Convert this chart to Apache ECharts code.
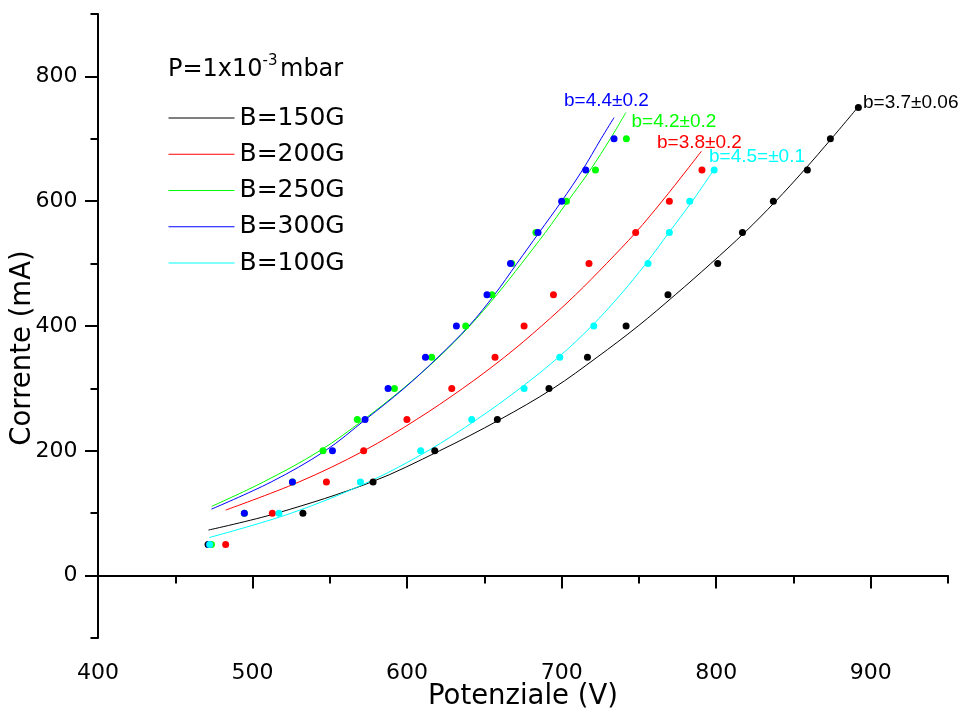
<!DOCTYPE html>
<html>
<head>
<meta charset="utf-8">
<script src="https://cdn.jsdelivr.net/npm/echarts@6/dist/echarts.min.js"></script>
<style>html,body{margin:0;padding:0;background:#fff;}#c{width:964px;height:713px;}</style>
</head>
<body>
<div id="c"></div>
<script>
// ---- tick labels ----
const xMajorTicks = [400, 500, 600, 700, 800, 900];
const xMinorTicks = [450, 550, 650, 750, 850, 950];
const yMajorTicks = [0, 200, 400, 600, 800];
const yMinorTicks = [-100, 100, 300, 500, 700, 900];

// ---- measured points: current (mA) vs voltage (V) ----
const current150 = [50, 100, 150, 200, 250, 300, 350, 400, 450, 500, 550, 600, 650, 700, 750];
const voltage150 = [471.2, 532.6, 578.0, 617.9, 658.4, 691.8, 716.7, 741.7, 768.8, 801.0, 817.0, 837.0, 859.0, 873.9, 892.0];

const current200 = [50, 100, 150, 200, 250, 300, 350, 400, 450, 500, 550, 600, 650];
const voltage200 = [482.6, 512.8, 547.8, 571.9, 599.9, 628.9, 656.9, 675.7, 694.7, 717.7, 747.9, 769.7, 790.8];

const current250 = [50, 100, 150, 200, 250, 300, 350, 400, 450, 500, 550, 600, 650, 700];
const voltage250 = [473.4, 494.7, 525.8, 545.6, 567.8, 591.8, 615.9, 637.9, 654.9, 667.7, 683.4, 703.1, 721.9, 741.9];

const current300 = [50, 100, 150, 200, 250, 300, 350, 400, 450, 500, 550, 600, 650, 700];
const voltage300 = [472.0, 494.7, 525.8, 551.7, 572.8, 587.7, 611.9, 631.9, 651.7, 666.9, 684.7, 700.0, 715.6, 733.9];

const current100 = [50, 100, 150, 200, 250, 300, 350, 400, 500, 550, 600, 650];
const voltage100 = [472.3, 517.1, 569.8, 608.8, 641.8, 675.7, 698.8, 720.8, 755.9, 769.7, 782.9, 798.7];

// ---- fitted curves ----
const fitV150 = [471.5, 515.7, 577, 621, 660, 694.5, 723, 749.5, 773.5, 796.5, 818.5, 838.5, 857, 874.5, 891.5];
const fitI150 = [73, 100, 150, 200, 250, 300, 350, 400, 450, 500, 550, 600, 650, 700, 750];
const fitV200 = [482.6, 530, 572, 606, 636, 663, 687, 709, 729, 748, 765, 781, 790.4];
const fitI200 = [105, 150, 200, 250, 300, 350, 400, 450, 500, 550, 600, 650, 680];
const fitV250 = [473.6, 507, 543.5, 572, 597.5, 620.5, 640.5, 658, 674, 689.5, 704, 718.5, 731.5, 741.5];
const fitI250 = [111, 150, 200, 250, 300, 350, 400, 450, 500, 550, 600, 650, 700, 742];
const fitV300 = [473.4, 512, 547, 573, 598, 620, 640, 656.5, 671, 685.5, 700, 713.5, 725.5, 733.9];
const fitI300 = [106.5, 150, 200, 250, 300, 350, 400, 450, 500, 550, 600, 650, 700, 734];
const fitV100 = [472, 525, 575, 613.5, 645, 673, 698, 719.5, 738, 754.5, 769.5, 784.5, 798.7];
const fitI100 = [61, 100, 150, 200, 250, 300, 350, 400, 450, 500, 550, 600, 651];

const seriesNames = ['B=150G', 'B=200G', 'B=250G', 'B=300G', 'B=100G'];
const seriesColors = ['#000000', '#ff0000', '#00ff00', '#0000ff', '#00ffff'];
const fitLabels = ['b=3.7\u00b10.06', 'b=3.8\u00b10.2', 'b=4.2\u00b10.2', 'b=4.4\u00b10.2', 'b=4.5=\u00b10.1'];

const pts = [[voltage150, current150], [voltage200, current200], [voltage250, current250], [voltage300, current300], [voltage100, current100]];
const fits = [[fitV150, fitI150], [fitV200, fitI200], [fitV250, fitI250], [fitV300, fitI300], [fitV100, fitI100]];
const zip = (a, b) => a.map((v, i) => [v, b[i]]);

const FONT = '"DejaVu Sans", sans-serif';
const AFONT = '"Liberation Sans", Arial, sans-serif';

const series = [];
fits.forEach((f, i) => {
  series.push({
    name: seriesNames[i], type: 'line', xAxisIndex: 0, yAxisIndex: 0,
    data: zip(f[0], f[1]), showSymbol: false, symbol: 'none',
    smooth: 0.35,
    lineStyle: { color: seriesColors[i], width: 1 }, itemStyle: { color: seriesColors[i] },
    z: 2
  });
});
pts.forEach((p, i) => {
  series.push({
    name: seriesNames[i] + ' dati', type: 'scatter', xAxisIndex: 0, yAxisIndex: 0,
    data: zip(p[0], p[1]), symbol: 'circle', symbolSize: 7,
    itemStyle: { color: seriesColors[i], opacity: 1 }, z: 3
  });
});

const annotations = [
  { i: 0, x: 863, y: 102.5 },
  { i: 1, x: 657, y: 143 },
  { i: 2, x: 631.5, y: 122 },
  { i: 3, x: 564, y: 100.3 },
  { i: 4, x: 709, y: 156.7 }
];

const graphic = [
  { type: 'text', x: 168, y: 70, style: { text: 'P=1x10', font: '24px ' + FONT, fill: '#000', verticalAlign: 'middle', align: 'left' } },
  { type: 'text', x: 262.5, y: 61, style: { text: '-3', font: '15px ' + FONT, fill: '#000', verticalAlign: 'middle', align: 'left' } },
  { type: 'text', x: 280, y: 70, style: { text: 'mbar', font: '24px ' + FONT, fill: '#000', verticalAlign: 'middle', align: 'left' } }
];
annotations.forEach(a => {
  graphic.push({ type: 'text', x: a.x, y: a.y, z: 10,
    style: { text: fitLabels[a.i], font: '19px ' + AFONT, fill: seriesColors[a.i], verticalAlign: 'middle', align: 'left' } });
});

const axisLine = { show: true, lineStyle: { color: '#000', width: 2 } };

const option = {
  animation: false,
  backgroundColor: '#fff',
  grid: { left: 98, right: 16, top: 14, bottom: 75, containLabel: false, outerBoundsMode: 'none' },
  legend: {
    data: seriesNames, orient: 'vertical', left: 168, top: 105.5, padding: 0,
    itemWidth: 66, itemHeight: 2, itemGap: 11.25,
    itemStyle: { opacity: 0 },
    lineStyle: { width: 1 },
    textStyle: { fontFamily: FONT, fontSize: 25, color: '#000', lineHeight: 25 },
    selectedMode: false
  },
  xAxis: [
    {
      type: 'value', min: 400, max: 950, position: 'bottom',
      name: 'Potenziale (V)', nameLocation: 'middle', nameGap: 45, nameMoveOverlap: false,
      nameTextStyle: { fontFamily: FONT, fontSize: 27.5, color: '#000' },
      axisLine: axisLine,
      axisTick: { show: true, customValues: xMajorTicks, length: 13, lineStyle: { color: '#000', width: 2 } },
      axisLabel: { show: true, customValues: xMajorTicks, margin: 24, fontFamily: FONT, fontSize: 22, color: '#000' },
      splitLine: { show: false }
    },
    {
      type: 'value', min: 400, max: 950, position: 'bottom',
      axisLine: { show: false },
      axisTick: { show: true, customValues: xMinorTicks, length: 8, lineStyle: { color: '#000', width: 2 } },
      axisLabel: { show: false }, splitLine: { show: false }
    }
  ],
  yAxis: [
    {
      type: 'value', min: -100, max: 900, position: 'left',
      name: 'Corrente (mA)', nameLocation: 'middle', nameGap: 61.5, nameMoveOverlap: false,
      nameTextStyle: { fontFamily: FONT, fontSize: 27.5, color: '#000', padding: [0, 44, 0, 0] },
      axisLine: axisLine,
      axisTick: { show: true, customValues: yMajorTicks, length: 13, lineStyle: { color: '#000', width: 2 } },
      axisLabel: { show: true, customValues: yMajorTicks, margin: 20.5, fontFamily: FONT, fontSize: 22, color: '#000' },
      splitLine: { show: false }
    },
    {
      type: 'value', min: -100, max: 900, position: 'left',
      axisLine: { show: false },
      axisTick: { show: true, customValues: yMinorTicks, length: 7.5, lineStyle: { color: '#000', width: 2 } },
      axisLabel: { show: false }, splitLine: { show: false }
    }
  ],
  graphic: graphic,
  series: series
};

const chart = echarts.init(document.getElementById('c'), null, { renderer: 'canvas' });
chart.setOption(option);
</script>
</body>
</html>
